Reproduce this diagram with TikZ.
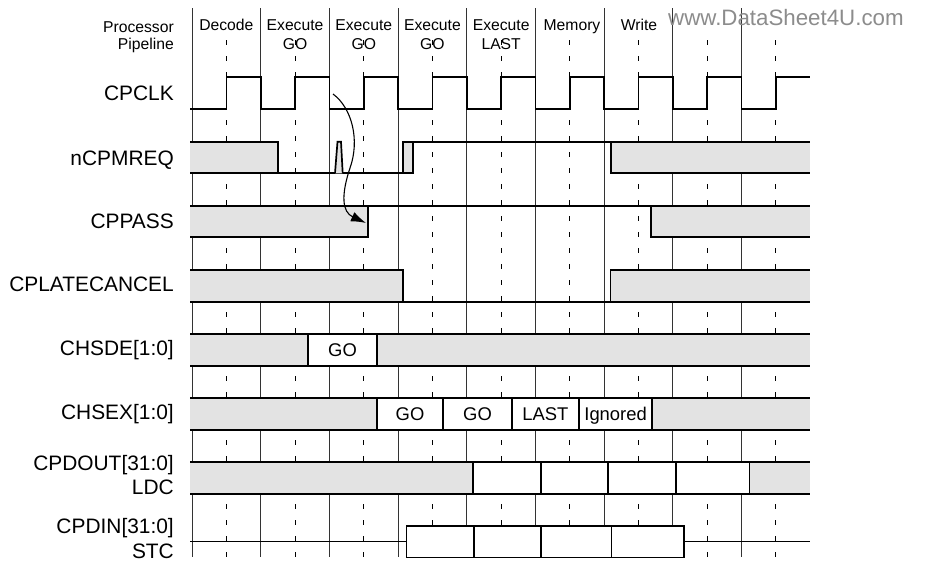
\documentclass[tikz,border=0pt]{standalone}
\usepackage{fontspec}
\setmainfont{Liberation Sans}
\usetikzlibrary{arrows.meta}
\definecolor{bandgray}{gray}{0.89}
\definecolor{wmgray}{gray}{0.55}
\begin{document}
\begin{tikzpicture}[x=1pt,y=-1pt,
  sig/.style={line width=1.7pt},
  gridsolid/.style={line width=0.9pt, black!80},
  griddash/.style={line width=1pt, black, dash pattern=on 5pt off 11pt},
  lbl/.style={anchor=base east, font=\fontsize{20.9}{24}\selectfont, inner sep=0pt},
  hdr/.style={anchor=base, font=\fontsize{15.7}{18}\selectfont, inner sep=0pt},
  boxlbl/.style={anchor=base, font=\fontsize{18.4}{20}\selectfont, inner sep=0pt},
  databox/.style={sig, fill=white},
  arrowline/.style={line width=1.1pt, -{Latex[length=15pt,width=10pt]}},
]
\useasboundingbox (0,0) rectangle (927,562);
\fill[white] (0,0) rectangle (927,562);

% grid
\foreach \k in {0,...,8} {
  \draw[gridsolid] ({192+68.7*\k},8) -- ({192+68.7*\k},557);
  \draw[griddash] ({226.35+68.7*\k},40) -- ({226.35+68.7*\k},557);
}

% watermark
\node[anchor=base west, inner sep=0pt, text=wmgray, font=\fontsize{22.3}{24}\selectfont] (wm) at (668,25) {www.DataSheet4U.com};

% header
\node[anchor=base east, inner sep=0pt, font=\fontsize{15.7}{18}\selectfont] (hp1) at (174,32) {Processor};
\node[anchor=base east, inner sep=0pt, font=\fontsize{15.7}{18}\selectfont] (hp2) at (174,49) {Pipeline};
\node[hdr] (st1) at (226.35,30.7) {Decode};
\node[hdr] (st2a) at (295.05,30.7) {Execute};
\node[hdr] (st2b) at (295.05,49.3) {GO};
\node[hdr] (st3a) at (363.75,30.7) {Execute};
\node[hdr] (st3b) at (363.75,49.3) {GO};
\node[hdr] (st4a) at (432.45,30.7) {Execute};
\node[hdr] (st4b) at (432.45,49.3) {GO};
\node[hdr] (st5a) at (501.15,30.7) {Execute};
\node[hdr] (st5b) at (501.15,49.3) {LAST};
\node[hdr] (st6) at (572,30.7) {Memory};
\node[hdr] (st7) at (639,30.7) {Write};

% signal labels
\node[lbl] (lclk) at (174,100.5) {CPCLK};
\node[lbl] (lreq) at (174,165) {nCPMREQ};
\node[lbl] (lpass) at (174,228) {CPPASS};
\node[lbl] (llate) at (174,291.5) {CPLATECANCEL};
\node[lbl] (lsde) at (174,355.5) {CHSDE[1:0]};
\node[lbl] (lsex) at (174,419.5) {CHSEX[1:0]};
\node[lbl] (ldout) at (174,470) {CPDOUT[31:0]};
\node[lbl] (ldc) at (174,494.5) {LDC};
\node[lbl] (ldin) at (174,533.5) {CPDIN[31:0]};
\node[lbl] (lstc) at (174,558) {STC};

% CPCLK
\draw[sig] (190,109) \foreach \k in {0,...,7} {
   -- ({226.35+68.7*\k},109) -- ({226.35+68.7*\k},77) -- ({260.7+68.7*\k},77) -- ({260.7+68.7*\k},109) }
   -- (775.95,109) -- (775.95,77) -- (810,77);

% nCPMREQ
\fill[bandgray] (190,141.7) rectangle (277.7,173.3);
\fill[bandgray] (610.7,141.7) rectangle (810,173.3);
\draw[sig] (190,141.7) -- (277.7,141.7) -- (277.7,173.3);
\draw[sig] (190,173.3) -- (412.7,173.3);
\draw[sig, fill=bandgray] (335,173.3) -- (337.5,141.7) -- (341,141.7) -- (342.7,173.3);
\draw[sig, fill=bandgray] (403.3,173.3) rectangle (412.7,141.7);
\draw[sig] (403.3,141.7) -- (810,141.7);
\draw[sig] (610.7,141.7) -- (610.7,173.3) -- (810,173.3);

% CPPASS
\fill[bandgray] (190,206) rectangle (367.7,237.3);
\fill[bandgray] (650.7,206) rectangle (810,237.3);
\draw[sig] (190,206) -- (810,206);
\draw[sig] (190,237.3) -- (367.7,237.3) -- (367.7,206);
\draw[sig] (650.7,206) -- (650.7,237.3) -- (810,237.3);

% CPLATECANCEL
\fill[bandgray] (190,270) rectangle (402.7,301.7);
\fill[bandgray] (610.5,270) rectangle (810,301.7);
\draw[sig] (190,270) -- (402.7,270) -- (402.7,301.7);
\draw[sig] (190,301.7) -- (810,301.7);
\draw[sig] (610.5,301.7) -- (610.5,270) -- (810,270);

% CHSDE
\fill[bandgray] (190,334) rectangle (810,366);
\draw[databox] (308.3,334) rectangle (376.7,366);
\draw[sig] (190,334) -- (810,334) (190,366) -- (810,366);
\node[boxlbl] (sdego) at (342.5,356.6) {GO};

% CHSEX
\fill[bandgray] (190,397.7) rectangle (810,429.7);
\draw[databox] (376.7,397.7) rectangle (443.3,429.7);
\draw[databox] (443.3,397.7) rectangle (511.7,429.7);
\draw[databox] (511.7,397.7) rectangle (579,429.7);
\draw[databox] (579,397.7) rectangle (652.3,429.7);
\draw[sig] (190,397.7) -- (810,397.7) (190,429.7) -- (810,429.7);
\node[boxlbl] (sexgo1) at (410,420.3) {GO};
\node[boxlbl] (sexgo2) at (477.5,420.3) {GO};
\node[boxlbl] (sexlast) at (545.3,420.3) {LAST};
\node[boxlbl] (sexign) at (615.6,420.3) {Ignored};

% CPDOUT
\fill[bandgray] (190,461.7) rectangle (810,493.7);
\draw[databox] (473.2,461.7) rectangle (541,493.7);
\draw[databox] (541,461.7) rectangle (608,493.7);
\draw[databox] (608,461.7) rectangle (675.8,493.7);
\draw[databox] (675.8,461.7) rectangle (749.5,493.7);
\draw[sig] (190,461.7) -- (810,461.7) (190,493.7) -- (810,493.7);

% CPDIN
\draw[sig] (190,541.6) -- (406.5,541.6);
\draw[sig] (684.2,541.6) -- (810,541.6);
\draw[databox] (406.5,525.7) rectangle (474.2,557.5);
\draw[databox] (474.2,525.7) rectangle (541,557.5);
\draw[databox] (541,525.7) rectangle (611.6,557.5);
\draw[databox] (611.6,525.7) rectangle (684.2,557.5);

% causality arrow
\coordinate (arrS) at (333,94);
\coordinate (arrE) at (366,223);
\draw[arrowline] (arrS) .. controls (352,108) and (360,140) .. (350,168)
   .. controls (341,195) and (342,212) .. (arrE);
\end{tikzpicture}
\end{document}
